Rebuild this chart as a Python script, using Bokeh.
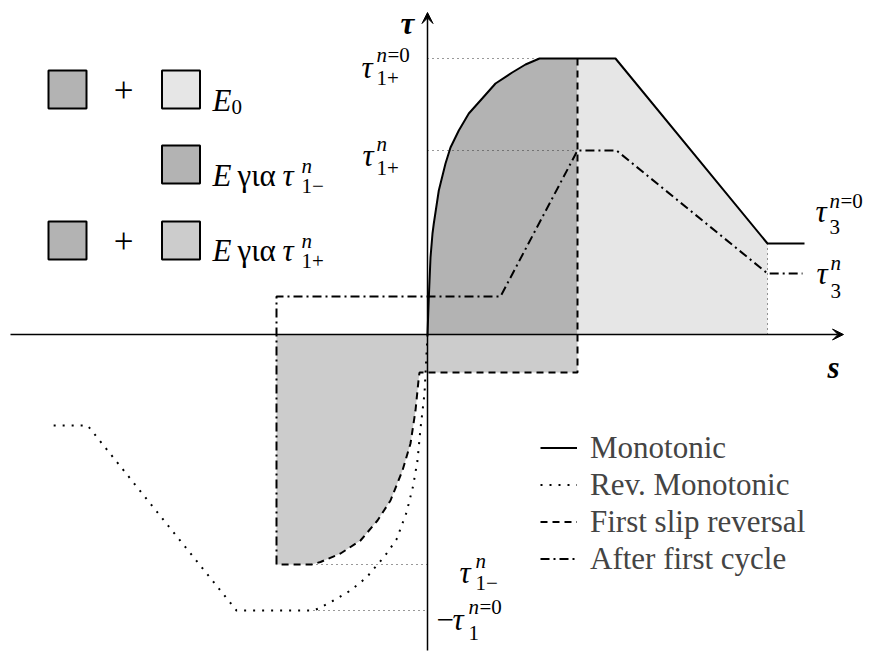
from bokeh.plotting import figure
from bokeh.models import Range1d, Arrow, VeeHead, Legend, LegendItem
from bokeh.core.properties import value
from bokeh.embed import file_html
from bokeh.resources import INLINE

# ---- bond stress (tau) vs slip (s), schematic units ----
# monotonic envelope
mono_s = [0, 0.12, 0.3, 0.5, 0.63, 1.13, 1.8, 2.3, 3.13, 4.13, 5.47, 6.8, 8.47, 9.8, 11.2, 18.8, 34.0, 37.7]
mono_t = [0, 3.4, 7.7, 10.1, 11.1, 14.4, 17.1, 18.7, 20.4, 22.1, 23.6, 25.1, 26.2, 27.0, 27.6, 27.6, 9.1, 9.1]

# reversed monotonic envelope
rev_s = [0, -0.2, -0.3, -0.7, -1.0, -1.45, -2.1, -3.1, -4.3, -5.0, -6.1, -7.7, -9.4, -10.9, -11.4, -19.1, -34.0, -37.9]
rev_t = [0, -3.9, -5.9, -9.4, -12.6, -15.2, -17.8, -20.5, -22.2, -23.0, -24.3, -25.6, -26.6, -27.4, -27.6, -27.6, -9.1, -9.1]

# first slip reversal
slip_s = [15.0, 15.0, -0.8, -0.9, -1.2, -1.7, -2.5, -3.7, -5.0, -6.7, -8.7, -10.7, -11.6, -15.1]
slip_t = [27.6, -3.8, -3.8, -4.6, -7.6, -10.9, -13.6, -16.6, -18.6, -20.6, -21.9, -22.75, -23.0, -23.0]

# envelope after the first cycle
cyc_s = [-15.1, -15.1, 7.3, 15.0, 18.9, 34.0, 37.5]
cyc_t = [-23.0, 3.8, 3.8, 18.4, 18.4, 6.1, 6.1]

# characteristic stress levels and slips
tau1p_0 = 27.6    # tau_1+ (n=0)
tau1p_n = 18.4    # tau_1+ (n)
tau3_0 = 9.1      # tau_3 (n=0)
tau3_n = 6.1      # tau_3 (n)
tau1m_n = -23.0   # tau_1- (n)
tau1_0 = -27.6    # -tau_1 (n=0)
s_rev = 15.0      # slip at reversal
s_3 = 34.0        # slip at start of residual branch

FONT = "Liberation Serif"
BLACK = "#000000"
DARK, LIGHT, MID = "#b3b3b3", "#e6e6e6", "#cccccc"

# canvas is 869 x 652 px, 10 px per unit, origin at (427, 334)
p = figure(width=869, height=652, x_range=Range1d(-42.7, 44.2), y_range=Range1d(-31.8, 33.4),
           output_backend="svg", toolbar_location=None, min_border=0,
           min_border_left=0, min_border_right=0, min_border_top=0, min_border_bottom=0)
p.axis.visible = False
p.grid.visible = False
p.outline_line_color = None
p.background_fill_color = "white"
p.border_fill_color = "white"


def at(px, py):
    """canvas pixel position -> data coordinates (for annotation layout)"""
    return (px - 427) / 10.0, (334 - py) / 10.0


# ---- shaded energy areas ----
k = mono_s.index(11.2)
dark_x = mono_s[:k + 1] + [s_rev, s_rev]
dark_y = mono_t[:k + 1] + [tau1p_0, 0]
light_x = [s_rev, s_rev] + mono_s[k + 1:k + 3] + [s_3]
light_y = [0, tau1p_0] + mono_t[k + 1:k + 3] + [0]
mid_x = [cyc_s[0], s_rev] + slip_s[1:]
mid_y = [0, 0] + slip_t[1:]
p.patch(dark_x, dark_y, fill_color=DARK, line_color=None)
p.patch(light_x, light_y, fill_color=LIGHT, line_color=None)
p.patch(mid_x, mid_y, fill_color=MID, line_color=None)

# ---- dotted guide lines ----
guide = dict(line_color="#333333", line_width=1, line_dash="1 4")
p.line([0, mono_s[k]], [tau1p_0, tau1p_0], **guide)
p.line([0, s_rev], [tau1p_n, tau1p_n], **guide)
p.line([slip_s[-2], 0], [tau1m_n, tau1m_n], **guide)
p.line([rev_s[14], 0], [tau1_0, tau1_0], **guide)
p.line([s_3, s_3], [tau3_0, 0], **guide)

# ---- axes with arrow heads ----
p.add_layout(Arrow(end=VeeHead(size=11, line_color=BLACK, fill_color=BLACK, line_width=1),
                   x_start=-41.7, y_start=0, x_end=41.6, y_end=0, line_width=1.5, line_color=BLACK))
p.add_layout(Arrow(end=VeeHead(size=11, line_color=BLACK, fill_color=BLACK, line_width=1),
                   x_start=0, y_start=-31.6, x_end=0, y_end=32.2, line_width=1.5, line_color=BLACK))

# ---- curves ----
r_mono = p.line(mono_s, mono_t, line_color=BLACK, line_width=2)
r_rev = p.line(rev_s, rev_t, line_color=BLACK, line_width=2, line_dash="2 7")
r_slip = p.line(slip_s, slip_t, line_color=BLACK, line_width=2, line_dash="7 5")
r_cyc = p.line(cyc_s, cyc_t, line_color=BLACK, line_width=2, line_dash="9 4 2 4")


def put(x, y, txt, size, style="normal", dx=0, dy=0):
    p.text(x=[x], y=[y], text=[txt], x_offset=dx, y_offset=dy,
           text_font=value(FONT), text_font_size=size, text_font_style=style,
           text_color=BLACK, text_align="left", text_baseline="alphabetic")


BASE, SCRIPT = "31px", "21px"


def tau_label(x, y, dx, dy, sup, sub, sx, sup_dy, sub_dy, minus=False):
    """tau with superscript / subscript, anchored at data point (x, y)"""
    if minus:
        put(x, y, "\u2212", BASE, "normal", dx - 16, dy)
    put(x, y, "\u03c4", BASE, "italic", dx, dy)
    if sup == "n=0":
        put(x, y, "n", SCRIPT, "italic", sx, dy + sup_dy)
        put(x, y, "=0", SCRIPT, "normal", sx + 11, dy + sup_dy)
    else:
        put(x, y, sup, SCRIPT, "italic", sx, dy + sup_dy)
    put(x, y, sub, SCRIPT, "normal", sx, dy + sub_dy)


tau_label(0, tau1p_0, -66, 9, "n=0", "1+", -51, -13, 10)
tau_label(0, tau1p_n, -65, 5, "n", "1+", -51, -12, 12)
tau_label(mono_s[-1], tau3_0, 11, -32, "n=0", "3", 25, -11, 15)
tau_label(cyc_s[-1], tau3_n, 14, 0, "n", "3", 28, -11, 17)
tau_label(0, tau1m_n, 32, 8, "n", "1\u2212", 48, -12, 10)
tau_label(0, tau1_0, 25, 9, "n=0", "1", 41, -13, 13, minus=True)

# axis titles
put(0, 32.2, "\u03c4", "31px", "bold italic", -27, 11)
put(41.6, 0, "s", "31px", "bold italic", -16, 33)

# ---- energy legend (top left) ----
sq = dict(width=3.8, height=3.8, line_color=BLACK, line_width=2)
for (cx, cy), col in [((67, 89), DARK), ((180.5, 89), LIGHT), ((180.5, 164), DARK),
                      ((67, 240), DARK), ((180.5, 240), MID)]:
    x, y = at(cx, cy)
    p.rect([x], [y], fill_color=col, **sq)
for cy in (89, 240):
    x, y = at(123, cy)
    p.text(x=[x], y=[y], text=["+"], text_font=value(FONT), text_font_size="35px",
           text_align="center", text_baseline="middle", text_color=BLACK)

x, y = at(212, 100)
put(x, y, "E", BASE, "italic")
put(x, y, "0", SCRIPT, "normal", 19, 6)
for base_py, sub in ((175, "1\u2212"), (250, "1+")):
    x, y = at(212, base_py)
    put(x, y, "E", BASE, "italic")
    put(x, y, "\u03b3\u03b9\u03b1", BASE, "normal", 25, 0)
    put(x, y, "\u03c4", BASE, "italic", 70, 0)
    put(x, y, "n", SCRIPT, "italic", 89, -10)
    put(x, y, sub, SCRIPT, "normal", 89, 10)

# ---- line-style legend (bottom right) ----
legend = Legend(items=[LegendItem(label="Monotonic", renderers=[r_mono]),
                       LegendItem(label="Rev. Monotonic", renderers=[r_rev]),
                       LegendItem(label="First slip reversal", renderers=[r_slip]),
                       LegendItem(label="After first cycle", renderers=[r_cyc])],
                location=(540, 75), orientation="vertical",
                label_text_font=FONT, label_text_font_size="31px",
                glyph_width=37, glyph_height=37, label_height=37, label_standoff=13,
                spacing=0, padding=0, margin=0,
                border_line_color=None, background_fill_alpha=0)
p.add_layout(legend)

open("out.html", "w").write(file_html(p, INLINE))
